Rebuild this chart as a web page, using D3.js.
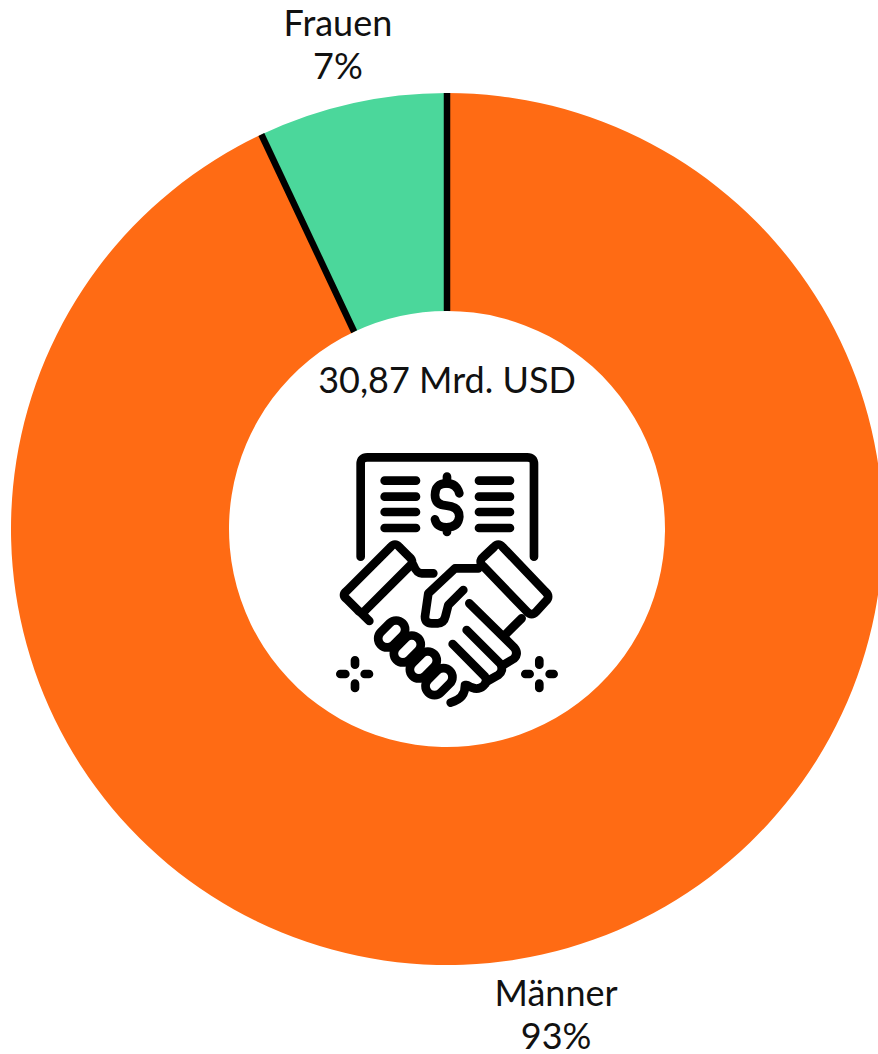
<!DOCTYPE html>
<html>
<head>
<meta charset="utf-8">
<script src="https://cdn.jsdelivr.net/npm/d3@7"></script>
<style>
  html, body { margin: 0; padding: 0; background: #fff; overflow: hidden; }
  text { font-family: Lato, sans-serif; fill: #111; }
</style>
</head>
<body>
<div id="chart"></div>
<script>
const categories = ["Männer", "Frauen"];
const shares = [93, 7];
const sliceColors = ["#ff6b14", "#4bd79b"];
const centerLabel = "30,87 Mrd. USD";

const width = 878;
const height = 1054;
const cx = 447;
const cy = 529;
const outerR = 436;
const innerR = 218;
const labelR = 500;
const labelDy = [-11, -5];

const svg = d3.select("#chart").append("svg")
  .attr("width", width)
  .attr("height", height)
  .style("display", "block");

const g = svg.append("g").attr("transform", `translate(${cx},${cy})`);

const pie = d3.pie().sort(null).value(d => d);
const arcs = pie(shares);
const arc = d3.arc().innerRadius(innerR).outerRadius(outerR);

g.selectAll("path.slice")
  .data(arcs)
  .enter().append("path")
  .attr("class", "slice")
  .attr("d", arc)
  .attr("fill", (d, i) => sliceColors[i]);

// black dividers only on the radial edges
g.selectAll("line.divider")
  .data(arcs)
  .enter().append("line")
  .attr("class", "divider")
  .attr("x1", d => Math.sin(d.startAngle) * innerR)
  .attr("y1", d => -Math.cos(d.startAngle) * innerR)
  .attr("x2", d => Math.sin(d.startAngle) * outerR)
  .attr("y2", d => -Math.cos(d.startAngle) * outerR)
  .attr("stroke", "#000")
  .attr("stroke-width", 6.5);

const labels = g.selectAll("text.label")
  .data(arcs)
  .enter().append("text")
  .attr("class", "label")
  .attr("text-anchor", "middle")
  .attr("font-size", 36)
  .attr("transform", (d, i) => {
    const mid = (d.startAngle + d.endAngle) / 2;
    return `translate(${Math.sin(mid) * labelR},${-Math.cos(mid) * labelR + labelDy[i]})`;
  });

labels.append("tspan").attr("x", 0).text((d, i) => categories[i]);
labels.append("tspan").attr("x", 0).attr("dy", 43).text(d => d.value + "%");

g.append("text")
  .attr("text-anchor", "middle")
  .attr("y", -136)
  .attr("font-size", 36)
  .text(centerLabel);

// handshake icon, drawn in a 3x grid so it is easier to trace
const icon = svg.append("g")
  .attr("transform", "translate(320,440) scale(0.3333)")
  .attr("fill", "none")
  .attr("stroke", "#000")
  .attr("stroke-width", 26)
  .attr("stroke-linecap", "round")
  .attr("stroke-linejoin", "round");

const iconPaths = [
  "M122,350 V72 Q122,52 142,52 H622 Q642,52 642,72 V350",
  "M194,122 H288 M194,170 H288 M194,216 H288 M194,264 H288",
  "M477,122 H570 M477,170 H570 M477,216 H570 M477,264 H570",
  "M381,110 V130 M381,262 V276",
  "M418,160 Q410,130 380,130 Q345,130 345,165 Q345,195 380,197 Q418,200 418,230 Q415,262 380,262 Q350,262 345,238",
  "M212,321 Q225,306 238,321 L268,351 Q284,365 268,379 L137,510 Q125,525 113,510 L80,477 Q64,465 80,453 Z",
  "M522,321 Q535,306 548,321 L677,456 Q692,470 677,484 L649,515 Q635,530 621,515 L490,379 Q474,365 490,351 Z",
  "M280,375 Q290,400 305,400 H340",
  "M125,520 L148,543",
  "M475,385 H405 L325,460 L315,530 Q315,550 335,550 H355 Q372,548 376,530 L385,495 L430,450",
  "M448,490 L582,622 Q597,640 582,656 L555,672",
  "M440,570 L542,672 Q552,692 535,705 L505,722",
  "M398,612 L495,710 Q505,725 490,738 Q470,755 440,735",
  "M605,535 L555,585",
  "M435,735 Q437,775 392,788",
  "M105,661 V674 M105,731 V744 M61,702 H76 M134,702 H147",
  "M658,661 V674 M658,731 V744 M616,702 H629 M689,702 H701"
];

icon.selectAll("path")
  .data(iconPaths)
  .enter().append("path")
  .attr("d", d => d);

const knuckles = [[215, 582], [262, 627], [310, 675], [357, 725]];
icon.selectAll("rect")
  .data(knuckles)
  .enter().append("rect")
  .attr("x", -46)
  .attr("y", -27)
  .attr("width", 92)
  .attr("height", 54)
  .attr("rx", 27)
  .attr("fill", "#fff")
  .attr("transform", d => `translate(${d[0]},${d[1]}) rotate(-45)`);
</script>
</body>
</html>
